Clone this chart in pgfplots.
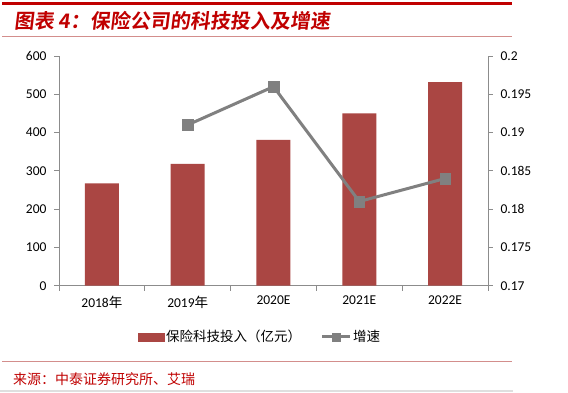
\documentclass[border=0pt]{standalone}
\usepackage{fontspec}
\setmainfont{Carlito}
\newfontfamily\cjk{Noto Sans CJK SC}
\newfontfamily\cjkt[FakeSlant=0.12]{Noto Sans CJK SC Bold}
\usepackage{pgfplots}
\pgfplotsset{compat=1.18}
\pgfplotsset{mylegline/.style={legend image code/.code={\draw[mark repeat=2,mark phase=2,##1, mark size=4pt] plot coordinates {(0pt,0pt) (14pt,0pt) (28pt,0pt)};}}}
\definecolor{barred}{HTML}{AA4643}
\definecolor{linegray}{HTML}{808080}
\definecolor{axisgray}{HTML}{8C8C8C}
\definecolor{titlered}{HTML}{C00000}
\definecolor{rulered}{HTML}{D38E8C}
\begin{document}
\begin{tikzpicture}[x=1pt,y=1pt]
\path[use as bounding box] (0,0) rectangle (568,392);
\fill[white] (0,0) rectangle (568,392);
\draw[titlered, line width=3pt] (2,388.8) -- (512,388.8);
\node[anchor=west, inner sep=0, text=titlered, font=\cjkt\fontsize{20}{20}\selectfont] at (14,371) {图表 4：保险公司的科技投入及增速};
\draw[rulered, line width=1pt] (2,355.3) -- (512,355.3);
\draw[rulered, line width=1pt] (2,30.3) -- (512,30.3);
\node[anchor=west, inner sep=0, text=titlered, font=\cjk\fontsize{14}{14}\selectfont] at (13,13) {来源：中泰证券研究所、艾瑞};
\fill[gray!25] (0,0) rectangle (513,2.5);

\begin{axis}[at={(59pt,106.3pt)}, anchor=south west, scale only axis,
  width=429pt, height=229.7pt,
  xmin=-0.5, xmax=4.5, ymin=0, ymax=600, ytick={0,100,...,600},
  axis x line*=bottom, axis y line*=left,
  axis line style={axisgray, line width=0.8pt},
  xtick={0,...,4}, xticklabels={2018{\cjk 年},2019{\cjk 年},2020E,2021E,2022E},
  minor xtick={-0.5,0.5,...,4.5}, major x tick style={draw=none},
  tick align=outside, tick style={axisgray, line width=0.8pt},
  major tick length=5pt, minor tick length=5pt,
  ticklabel style={font=\fontsize{13.5}{14}\selectfont},
  /pgf/number format/assume math mode=true,
  yticklabel style={xshift=-4pt},
  xticklabel style={yshift=-2pt},
  ybar, bar width=34pt, bar shift=0pt,
]
\addplot[fill=barred, draw=none] coordinates {(0,267) (1,318) (2,381) (3,450) (4,532)};
\end{axis}

\begin{axis}[at={(59pt,106.3pt)}, anchor=south west, scale only axis,
  width=429pt, height=229.7pt,
  xmin=-0.5, xmax=4.5, ymin=0.17, ymax=0.2,
  axis y line*=right, axis x line=none,
  axis line style={axisgray, line width=0.8pt},
  ytick={0.17,0.175,0.18,0.185,0.19,0.195,0.2},
  yticklabels={0.17,0.175,0.18,0.185,0.19,0.195,0.2},
  tick align=outside, tick style={axisgray, line width=0.8pt},
  major tick length=5pt,
  ticklabel style={font=\fontsize{13.5}{14}\selectfont},
  yticklabel style={xshift=4pt},
  legend style={at={(0.4685,-0.223)}, anchor=center, draw=none, fill=none,
    legend columns=2, font=\cjk\fontsize{13.5}{14}\selectfont,
    /tikz/every even column/.append style={column sep=18pt},
    nodes={inner sep=1.5pt}},
]
\addlegendimage{legend image code/.code={\fill[barred] (0pt,-4pt) rectangle (26pt,4pt);}}
\addlegendentry{保险科技投入（亿元）}
\addplot[linegray, line width=3pt, mark=square*, mark size=5.3pt,
  mark options={solid, fill=linegray, line width=0.5pt}, mylegline]
  coordinates {(1,0.191) (2,0.196) (3,0.181) (4,0.184)};
\addlegendentry{增速}
\end{axis}
\end{tikzpicture}
\end{document}
